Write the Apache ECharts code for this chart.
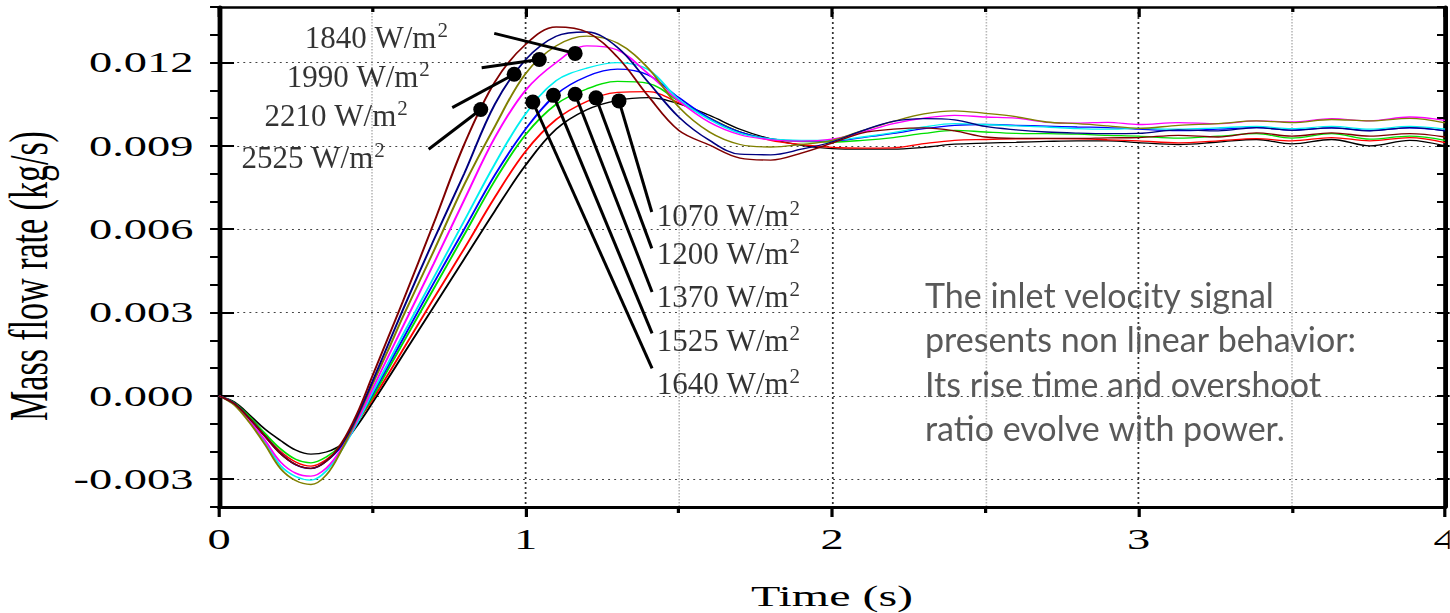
<!DOCTYPE html>
<html><head><meta charset="utf-8">
<script src="https://cdn.jsdelivr.net/npm/echarts@6/dist/echarts.min.js"></script>
<style>
html,body{margin:0;padding:0;background:#fff;overflow:hidden}
#wrap{position:relative;width:1450px;height:613px;background:#fff}
#base{position:absolute;left:0;top:0;width:906px;height:613px;transform:scaleX(1.6);transform-origin:0 0}
#over{position:absolute;left:0;top:0;width:1450px;height:613px}
</style></head><body>
<div id="wrap"><div id="base"></div><div id="over"></div></div>
<script>
// ---- data ----
const time = [0,0.05,0.1,0.15,0.2,0.25,0.3,0.35,0.4,0.45,0.5,0.55,0.6,0.7,0.8,0.9,1.0,1.1,1.2,1.3,1.4,1.5,1.6,1.7,1.8,1.9,2.0,2.1,2.2,2.3,2.4,2.5,2.6,2.7,2.8,2.9,3.0,3.13,3.26,3.385,3.5,3.63,3.755,3.885,4.0];

const black1070 = [0,-0.00022,-0.00069,-0.0012,-0.0016,-0.00195,-0.0021,-0.00202,-0.00175,-0.00108,
-0.00026,0.0006,0.00147,0.0032,0.00493,0.00666,0.0083,0.0096,0.0103,0.01064,
0.01074,0.01052,0.0101,0.0096,0.00925,0.00902,0.0089,0.00888,0.00888,0.00895,
0.00906,0.0091,0.00913,0.00916,0.00918,0.00918,0.00912,
0.00905,0.00914,0.00923,0.00907,0.00923,0.009,0.0092,0.009];

const red1200 = [0,-0.00027,-0.0008,-0.00142,-0.002,-0.00238,-0.00253,-0.0023,-0.0018,-0.00095,
-0.00015,0.00074,0.00166,0.0035,0.0053,0.00715,0.0088,0.00995,0.0106,0.01093,
0.01095,0.01055,0.01,0.0095,0.0092,0.00905,0.00895,0.00892,0.00893,0.00908,
0.0092,0.00923,0.00925,0.00926,0.00925,0.00922,0.00918,
0.00911,0.00918,0.00926,0.00918,0.0093,0.00918,0.0093,0.00912];

const green1370 = [0,-0.00025,-0.00075,-0.00135,-0.0019,-0.00228,-0.00241,-0.0022,-0.00175,-0.00095,
-0.00006,0.00092,0.0019,0.00385,0.0058,0.00775,0.0094,0.0105,0.01105,0.01132,
0.01125,0.01062,0.01,0.0095,0.00925,0.00915,0.00914,0.0092,0.0093,0.00945,
0.00956,0.0095,0.00945,0.00944,0.00942,0.00938,0.00935,
0.00928,0.00935,0.00944,0.00928,0.00944,0.00924,0.00935,0.0092];

const blue1525 = [0,-0.00027,-0.00082,-0.00145,-0.00205,-0.00248,-0.00262,-0.00235,-0.0018,-0.00095,
0.00004,0.00105,0.00205,0.00405,0.006,0.00795,0.0096,0.01085,0.0115,0.01176,
0.01155,0.01074,0.01,0.0095,0.00925,0.00918,0.00918,0.0093,0.00945,0.00962,
0.00974,0.00977,0.00974,0.00971,0.00968,0.00966,0.0096,
0.00955,0.0096,0.00966,0.00957,0.00965,0.00955,0.00965,0.00955];

const cyan1640 = [0,-0.0003,-0.00092,-0.00165,-0.0025,-0.0029,-0.00303,-0.0027,-0.00195,-0.001,
0.0001,0.00115,0.0022,0.00425,0.0063,0.00835,0.01015,0.01135,0.0118,0.012,
0.01175,0.01067,0.00995,0.00945,0.00925,0.0092,0.0092,0.00932,0.00948,0.00968,
0.0098,0.00977,0.00972,0.00968,0.00962,0.0096,0.00963,
0.0096,0.00965,0.0097,0.00962,0.0097,0.0096,0.0097,0.0096];

const magenta1840 = [0,-0.0003,-0.0009,-0.0016,-0.00237,-0.00278,-0.00289,-0.0026,-0.0019,-0.0009,
0.00023,0.00137,0.0025,0.00475,0.00705,0.0093,0.011,0.012,0.0126,0.01245,
0.0116,0.01062,0.00985,0.0094,0.00922,0.00917,0.00924,0.0095,0.0098,0.01,
0.0101,0.01004,0.01,0.00985,0.00982,0.00985,0.00977,
0.00984,0.0098,0.0099,0.00986,0.00998,0.0099,0.01004,0.00992];

const olive1990 = [0,-0.00033,-0.00097,-0.00175,-0.00261,-0.00305,-0.00319,-0.00285,-0.00195,-0.0008,
0.0004,0.0016,0.00285,0.0052,0.0076,0.0097,0.0116,0.0126,0.01295,0.0127,
0.0118,0.0104,0.0095,0.00905,0.00896,0.00905,0.0092,0.00955,0.00988,0.01015,
0.01026,0.01017,0.01005,0.00986,0.0098,0.00972,0.00963,
0.00974,0.0098,0.0099,0.00984,0.00995,0.0099,0.00999,0.00983];

const navy2210 = [0,-0.00028,-0.00082,-0.00145,-0.00207,-0.00247,-0.00261,-0.00235,-0.00175,-0.00075,
0.0005,0.0018,0.0031,0.0056,0.008,0.0105,0.0121,0.01295,0.0131,0.01255,
0.0113,0.01004,0.0092,0.0087,0.00868,0.00888,0.00914,0.00955,0.00988,0.00998,
0.00994,0.0097,0.00958,0.0095,0.00946,0.00944,0.00945,
0.00958,0.00954,0.00966,0.00956,0.00965,0.00954,0.00966,0.00954];

const maroon2525 = [0,-0.00028,-0.00082,-0.00145,-0.00207,-0.00247,-0.00261,-0.00235,-0.0017,-0.00065,
0.0007,0.00205,0.0034,0.0062,0.00905,0.0113,0.01265,0.01328,0.0131,0.0122,
0.0108,0.00956,0.00903,0.00856,0.00849,0.00874,0.0091,0.00947,0.0096,0.00965,
0.00954,0.00932,0.00927,0.00927,0.00927,0.00929,0.0093,
0.00938,0.00932,0.00947,0.00935,0.00947,0.00935,0.00944,0.00932];

const seriesNames = ['1070 W/m²','1200 W/m²','1370 W/m²','1525 W/m²','1640 W/m²','1840 W/m²','1990 W/m²','2210 W/m²','2525 W/m²'];
const seriesValues = [black1070, red1200, green1370, blue1525, cyan1640, magenta1840, olive1990, navy2210, maroon2525];

const yTickValues = [-0.003, 0, 0.003, 0.006, 0.009, 0.012];

// marker dots on the curves (time, value) in the same order as seriesNames
const dotPoints = [[1.305,0.01062],[1.230,0.01073],[1.162,0.01086],[1.091,0.01082],[1.024,0.01058],
                   [1.162,0.01233],[1.045,0.01211],[0.963,0.01158],[0.854,0.01031]];
// far end of each leader line (time, value)
const leaderEnds = [[1.412,0.00662],[1.412,0.00531],[1.413,0.00374],[1.413,0.00225],[1.413,0.00099],
                    [0.898,0.01305],[0.857,0.01181],[0.761,0.01038],[0.684,0.00888]];
// anchor of each label text (time, value)
const labelAt = [[1.4286,0.00647],[1.4286,0.0051],[1.4286,0.00355],[1.4286,0.00197],[1.4286,0.00042],
                 [0.747,0.01288],[0.688,0.01147],[0.616,0.01007],[0.541,0.00856]];

const noteLines = ['The inlet velocity signal','presents non linear behavior:','Its rise time and overshoot','ratio evolve with power.'];

// ---- styles ----
const colors = ['#000000','#ff0000','#00e000','#0000ff','#00f0f0','#ff00ff','#808000','#000080','#800000'];
const S = 1.6; // horizontal stretch of the base drawing
const serif = 'Liberation Serif';

function richName(name){ return '{n|' + name.replace('²', '}{s|2}'); }

const base = echarts.init(document.getElementById('base'), null, {renderer:'svg'});
const xCommon = {type:'value', min:0, max:4, interval:1};
const yCommon = {type:'value', min:-0.004, max:0.014};
base.setOption({
  animation:false,
  backgroundColor:'transparent',
  textStyle:{fontFamily:serif},
  grid:{left:219/S, right:906-1445/S, top:7, bottom:106, outerBoundsMode:'none'},
  xAxis:[
    Object.assign({}, xCommon, {
      position:'bottom',
      axisLine:{show:true, onZero:false, lineStyle:{color:'#000', width:3}},
      axisTick:{show:true, inside:false, length:10, lineStyle:{color:'#000', width:2}},
      minorTick:{show:true, splitNumber:2, length:6, lineStyle:{color:'#000', width:2}},
      axisLabel:{show:true, fontSize:29, color:'#000', fontFamily:serif, margin:18},
      splitLine:{show:true, lineStyle:{color:'#333', width:1.1, type:[2,3]}},
      minorSplitLine:{show:true, lineStyle:{color:'#b8b8b8', width:1, type:[1.5,1.5]}},
      name:'Time (s)', nameLocation:'middle', nameGap:74,
      nameTextStyle:{fontSize:30, color:'#000', fontFamily:serif}
    }),
    Object.assign({}, xCommon, {
      position:'top',
      axisLine:{show:true, onZero:false, lineStyle:{color:'#000', width:2.5}},
      axisTick:{show:true, inside:true, length:10, lineStyle:{color:'#000', width:2}},
      minorTick:{show:true, splitNumber:2, length:5, lineStyle:{color:'#000', width:2}},
      axisLabel:{show:false}, splitLine:{show:false}
    })
  ],
  yAxis:[
    Object.assign({}, yCommon, {
      position:'left', interval:0.001,
      axisLine:{show:true, onZero:false, lineStyle:{color:'#000', width:3}},
      axisTick:{show:true, inside:false, length:5.6, lineStyle:{color:'#000', width:2}},
      axisLabel:{show:true, fontSize:29, color:'#000', fontFamily:serif, margin:16,
        formatter:function(v){ return (Math.round(v*1000) % 3 === 0) ? v.toFixed(3) : ''; }},
      splitLine:{show:false},
      name:'Mass flow rate (kg/s)', nameLocation:'middle', nameRotate:90, nameGap:100,
      nameTextStyle:{fontSize:34, color:'#000', fontFamily:serif, padding:[0,38,0,0]}
    }),
    Object.assign({}, yCommon, {
      position:'right', interval:0.001,
      axisLine:{show:true, onZero:false, lineStyle:{color:'#000', width:3}},
      axisTick:{show:true, inside:true, length:5, lineStyle:{color:'#000', width:2}},
      axisLabel:{show:false}, splitLine:{show:false}
    }),
    Object.assign({}, yCommon, {
      position:'right',
      axisLine:{show:false, onZero:false},
      axisTick:{show:true, inside:false, length:10.6, customValues:yTickValues, lineStyle:{color:'#000', width:2}},
      axisLabel:{show:false},
      splitLine:{show:true, lineStyle:{color:'#444', width:1.2, type:[1.2,2.6]}}
    }),
    Object.assign({}, yCommon, {
      position:'left',
      axisLine:{show:false, onZero:false},
      axisTick:{show:true, inside:true, length:9.4, customValues:yTickValues, lineStyle:{color:'#000', width:2}},
      axisLabel:{show:false}, splitLine:{show:false}
    })
  ],
  series: seriesValues.map(function(vals, k){
    return {
      type:'line', name:seriesNames[k], xAxisIndex:0, yAxisIndex:0,
      data: time.map(function(t,i){ return [t, vals[i]]; }),
      showSymbol:false, smooth:0.35, silent:true,
      lineStyle:{color:colors[k], width:1.3},
      itemStyle:{color:colors[k]}
    };
  })
});

const over = echarts.init(document.getElementById('over'), null, {renderer:'canvas'});
const upperIdx = [5,6,7,8], lowerIdx = [0,1,2,3,4];
const labelRich = {
  n:{fontSize:31, fontFamily:serif, color:'#000', lineHeight:34, verticalAlign:'bottom'},
  s:{fontSize:21, fontFamily:serif, color:'#000', lineHeight:34, verticalAlign:'top', padding:[0,0,0,1]}
};
over.setOption({
  animation:false,
  backgroundColor:'transparent',
  grid:{left:219, right:5, top:7, bottom:106, outerBoundsMode:'none'},
  xAxis:{type:'value', min:0, max:4, show:false},
  yAxis:{type:'value', min:-0.004, max:0.014, show:false},
  series:[
    {type:'lines', coordinateSystem:'cartesian2d', silent:true, z:3,
     symbol:['none','none'],
     lineStyle:{color:'#000', width:3, opacity:1, curveness:0},
     data: dotPoints.map(function(p,i){ return {coords:[leaderEnds[i], p]}; })},
    {type:'scatter', silent:true, z:4, symbol:'circle', symbolSize:15,
     itemStyle:{color:'#000', opacity:1}, data: dotPoints},
    {type:'scatter', silent:true, z:5, symbolSize:0,
     data: upperIdx.map(function(i){ return labelAt[i]; }),
     label:{show:true, position:'left', distance:0, rich:labelRich,
       formatter:function(p){ return richName(seriesNames[upperIdx[p.dataIndex]]); }}},
    {type:'scatter', silent:true, z:5, symbolSize:0,
     data: lowerIdx.map(function(i){ return labelAt[i]; }),
     label:{show:true, position:'right', distance:0, rich:labelRich,
       formatter:function(p){ return richName(seriesNames[lowerIdx[p.dataIndex]]); }}}
  ],
  graphic:[{type:'text', left:925, top:275, silent:true,
    style:{text:noteLines.join('\n'), fill:'#595959', fontSize:34, fontFamily:'Lato', lineHeight:44.3}}]
});
</script>
</body></html>
